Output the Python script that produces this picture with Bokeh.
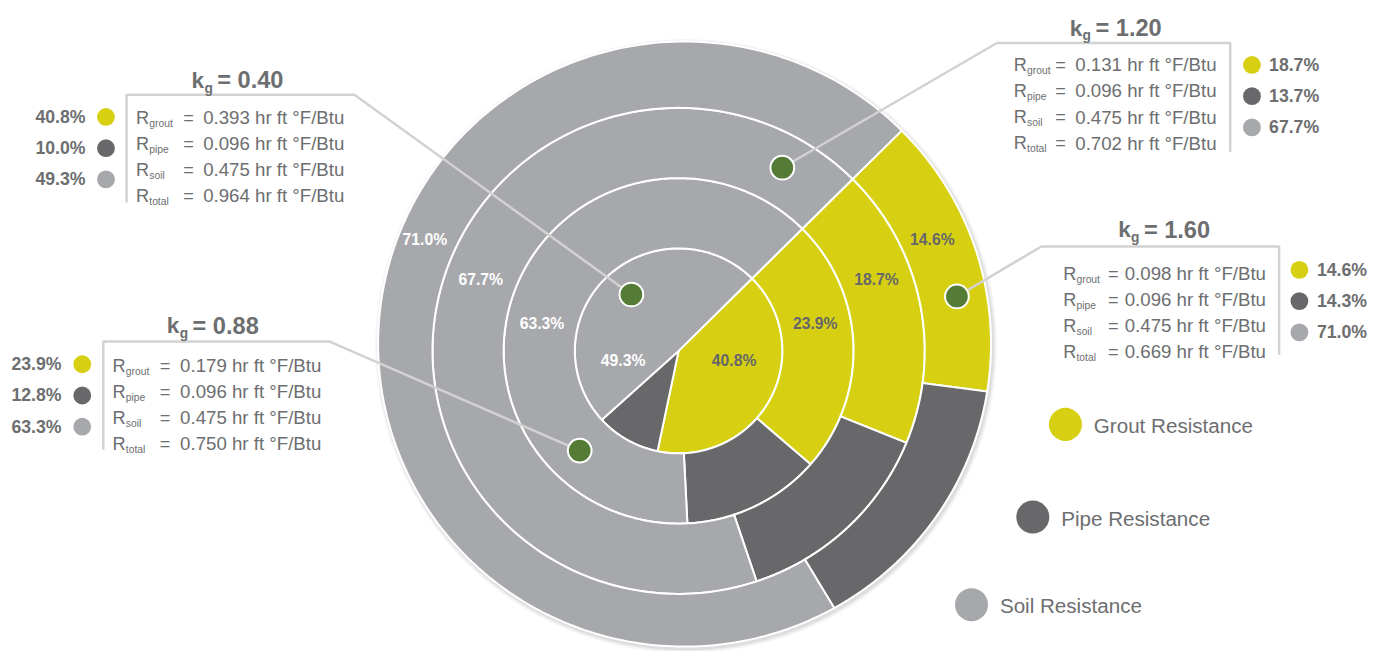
import numpy as np
from bokeh.plotting import figure
from bokeh.models import Range1d
from bokeh.core.properties import value
from bokeh.embed import file_html
from bokeh.resources import INLINE

# ---------------- data ----------------
kg_labels = ["0.40", "0.88", "1.20", "1.60"]
grout_pct = [40.8, 23.9, 18.7, 14.6]
pipe_pct = [10.0, 12.8, 13.7, 14.3]
soil_pct = [49.3, 63.3, 67.7, 71.0]
r_grout = ["0.393", "0.179", "0.131", "0.098"]
r_pipe = ["0.096", "0.096", "0.096", "0.096"]
r_soil = ["0.475", "0.475", "0.475", "0.475"]
r_total = ["0.964", "0.750", "0.702", "0.669"]
r_names = ["grout", "pipe", "soil", "total"]
unit = "hr ft \u00b0F/Btu"
components = ["Grout Resistance", "Pipe Resistance", "Soil Resistance"]

# ---------------- style / layout ----------------
COLORS = ["#D7D012", "#68686A", "#A7A8AC"]
GREEN = "#547C37"
TXT = "#6D6E70"
LEAD = "#D2D2D2"
FONT = value("Liberation Sans")
W, H = 1392, 667  # layout units (y flipped so that it grows upwards)
FS = 0.982        # font scale of the 1376x651 canvas vs. layout units

def Y(v):
    return H - np.asarray(v, dtype=float)

def fs(px):
    return f"{px * FS:.2f}px"

CX, CY = 686.0, float(Y(359))          # centre of the inner rings
OX, OY, OR = 692.0, float(Y(352)), 310  # outer rim circle
RADII = [0, 105, 177, 249]
START = np.pi / 4

lab_r = [57, 141, 213, 281]
lab_a = [-10, 11.5, 20, 24]
dot_r = [75, 143, 215, 287]
dot_a = [129.6, 225.6, 60.8, 11.2]
box = [
    dict(vx=127.5, top=96.5, bot=207, ex=358, side="L", rx=137, eq=48, vl=68,
         base=120, title=(193.3, 81.7), pct_x=86, dot_x=106.7, pct_y=119.3),
    dict(vx=104, top=349.5, bot=460, ex=333, side="L", rx=113.3, eq=47.7, vl=68.4,
         base=374, title=(168.3, 333), pct_x=61.7, dot_x=82.7, pct_y=372.7),
    dict(vx=1244, top=43.5, bot=155, ex=1008, side="R", rx=1025, eq=42, vl=62.3,
         base=66, title=(1081.7, 28.3), pct_x=1283.3, dot_x=1266, pct_y=66),
    dict(vx=1293.5, top=252, bot=363, ex=1053, side="R", rx=1075, eq=45.5, vl=62.3,
         base=280, title=(1130.7, 235), pct_x=1331.7, dot_x=1314, pct_y=276),
]
LINE_DY = 26.7
PCT_DY = 32

p = figure(width=1376, height=651, output_backend="svg", toolbar_location=None,
           x_range=Range1d(0, W), y_range=Range1d(0, H),
           x_axis_location=None, y_axis_location=None, min_border=0)
p.grid.visible = False
p.outline_line_color = None
p.background_fill_color = "white"

def circle_poly(cx, cy, r, n=360):
    t = np.linspace(0, 2 * np.pi, n)
    return list(cx + r * np.cos(t)), list(cy + r * np.sin(t))

# soft drop shadow
for dr, a in [(4.5, 0.035), (3, 0.045), (1.5, 0.06)]:
    xs, ys = circle_poly(OX + 1.5, OY - 2, OR + dr)
    p.patch(x=xs, y=ys, fill_color="black", fill_alpha=a, line_color=None)

def angles(i):
    vals = np.array([grout_pct[i], pipe_pct[i], soil_pct[i]])
    cum = np.concatenate([[0], np.cumsum(vals)]) / vals.sum() * 2 * np.pi
    return START - cum[:-1], START - cum[1:]   # clockwise from 45 degrees

pxs, pys, pcol = [], [], []
dx0, dy0 = CX - OX, CY - OY
for i in range(4):
    a0s, a1s = angles(i)
    for k, (a0, a1) in enumerate(zip(a0s, a1s)):
        th = np.linspace(a0, a1, 240)
        ux, uy = np.cos(th), np.sin(th)
        if i < 3:
            t = np.full_like(th, RADII[i + 1])
        else:
            du = dx0 * ux + dy0 * uy
            t = -du + np.sqrt(du ** 2 - (dx0 ** 2 + dy0 ** 2) + OR ** 2)
        ox, oy = CX + t * ux, CY + t * uy
        if RADII[i] == 0:
            ix, iy = np.array([CX]), np.array([CY])
        else:
            ix, iy = CX + RADII[i] * ux[::-1], CY + RADII[i] * uy[::-1]
        pxs.append(list(np.concatenate([ox, ix])))
        pys.append(list(np.concatenate([oy, iy])))
        pcol.append(COLORS[k])
p.patches(xs=pxs, ys=pys, fill_color=pcol, line_color="white", line_width=2,
          line_join="miter")

# ring percent labels
gx, gy, gt, sx, sy, st = [], [], [], [], [], []
for i in range(4):
    a = np.deg2rad(lab_a[i])
    gx.append(CX + lab_r[i] * np.cos(a)); gy.append(CY + lab_r[i] * np.sin(a))
    gt.append(f"{grout_pct[i]:.1f}%")
    sx.append(CX - lab_r[i] * np.cos(a)); sy.append(CY + lab_r[i] * np.sin(a))
    st.append(f"{soil_pct[i]:.1f}%")
p.text(x=gx, y=gy, text=gt, text_font=FONT, text_font_size=fs(16), text_font_style="bold",
       text_color="#66676A", text_align="center", text_baseline="middle")
p.text(x=sx, y=sy, text=st, text_font=FONT, text_font_size=fs(16), text_font_style="bold",
       text_color="white", text_align="center", text_baseline="middle")

# leader lines and dots
for i in range(4):
    b = box[i]
    a = np.deg2rad(dot_a[i])
    dx = CX + dot_r[i] * np.cos(a)
    dy = CY + dot_r[i] * np.sin(a)
    xs = [dx, b["ex"], b["vx"], b["vx"]]
    ys = [dy, float(Y(b["top"])), float(Y(b["top"])), float(Y(b["bot"]))]
    p.line(x=xs, y=ys, line_color=LEAD, line_width=2.5)
    b["dot"] = (dx, dy)
p.circle(x=[b["dot"][0] for b in box], y=[b["dot"][1] for b in box], radius=12,
         fill_color=GREEN, line_color="white", line_width=2)

# annotation text
Rx, Ry, Sx, Sy, St, Ex, Ey, Vx, Vy, Vt = ([] for _ in range(10))
for i in range(4):
    b = box[i]
    vals = [r_grout[i], r_pipe[i], r_soil[i], r_total[i]]
    for j in range(4):
        yb = b["base"] + j * LINE_DY
        Rx.append(b["rx"]); Ry.append(float(Y(yb)))
        Sx.append(b["rx"] + 13.5); Sy.append(float(Y(yb + 6))); St.append(r_names[j])
        Ex.append(b["rx"] + b["eq"]); Ey.append(float(Y(yb)))
        Vx.append(b["rx"] + b["vl"]); Vy.append(float(Y(yb))); Vt.append(f"{vals[j]} {unit}")
p.text(x=Rx, y=Ry, text=["R"] * len(Rx), text_font=FONT, text_font_size=fs(18.5),
       text_color=TXT, text_baseline="alphabetic")
p.text(x=Sx, y=Sy, text=St, text_font=FONT, text_font_size=fs(10.5), text_color=TXT,
       text_baseline="alphabetic")
p.text(x=Ex, y=Ey, text=["="] * len(Ex), text_font=FONT, text_font_size=fs(18.5),
       text_color=TXT, text_baseline="alphabetic")
p.text(x=Vx, y=Vy, text=Vt, text_font=FONT, text_font_size=fs(19), text_color=TXT,
       text_baseline="alphabetic")

# titles k_g = ...
kx, ky, gxx, gyy, tx, ty, tt = [], [], [], [], [], [], []
for i in range(4):
    x0, yb = box[i]["title"]
    kx.append(x0); ky.append(float(Y(yb)))
    gxx.append(x0 + 13); gyy.append(float(Y(yb + 8)))
    tx.append(x0 + 26); ty.append(float(Y(yb))); tt.append(f"= {kg_labels[i]}")
p.text(x=kx, y=ky, text=["k"] * 4, text_font=FONT, text_font_size=fs(23),
       text_font_style="bold", text_color=TXT, text_baseline="alphabetic")
p.text(x=gxx, y=gyy, text=["g"] * 4, text_font=FONT, text_font_size=fs(14),
       text_font_style="bold", text_color=TXT, text_baseline="alphabetic")
p.text(x=tx, y=ty, text=tt, text_font=FONT, text_font_size=fs(24),
       text_font_style="bold", text_color=TXT, text_baseline="alphabetic")

# per-box percent legends
for i in range(4):
    b = box[i]
    pcts = [grout_pct[i], pipe_pct[i], soil_pct[i]]
    ys = [float(Y(b["pct_y"] + k * PCT_DY)) for k in range(3)]
    p.circle(x=[b["dot_x"]] * 3, y=ys, radius=9, fill_color=COLORS, line_color=None)
    align = "right" if b["side"] == "L" else "left"
    p.text(x=[b["pct_x"]] * 3, y=ys, text=[f"{v:.1f}%" for v in pcts], text_font=FONT,
           text_font_size=fs(18), text_font_style="bold", text_color=TXT,
           text_align=align, text_baseline="middle")

# main legend
leg_dot_x = [1077.3, 1044.3, 982.3]
leg_y = [434.3, 529.3, 619]
p.circle(x=leg_dot_x, y=list(Y(leg_y)), radius=16.7, fill_color=COLORS, line_color=None)
p.text(x=[v + 28.7 for v in leg_dot_x], y=list(Y(np.array(leg_y) + 1)), text=components,
       text_font=FONT, text_font_size=fs(21), text_color=TXT, text_baseline="middle")

open("out.html", "w").write(file_html(p, INLINE))
